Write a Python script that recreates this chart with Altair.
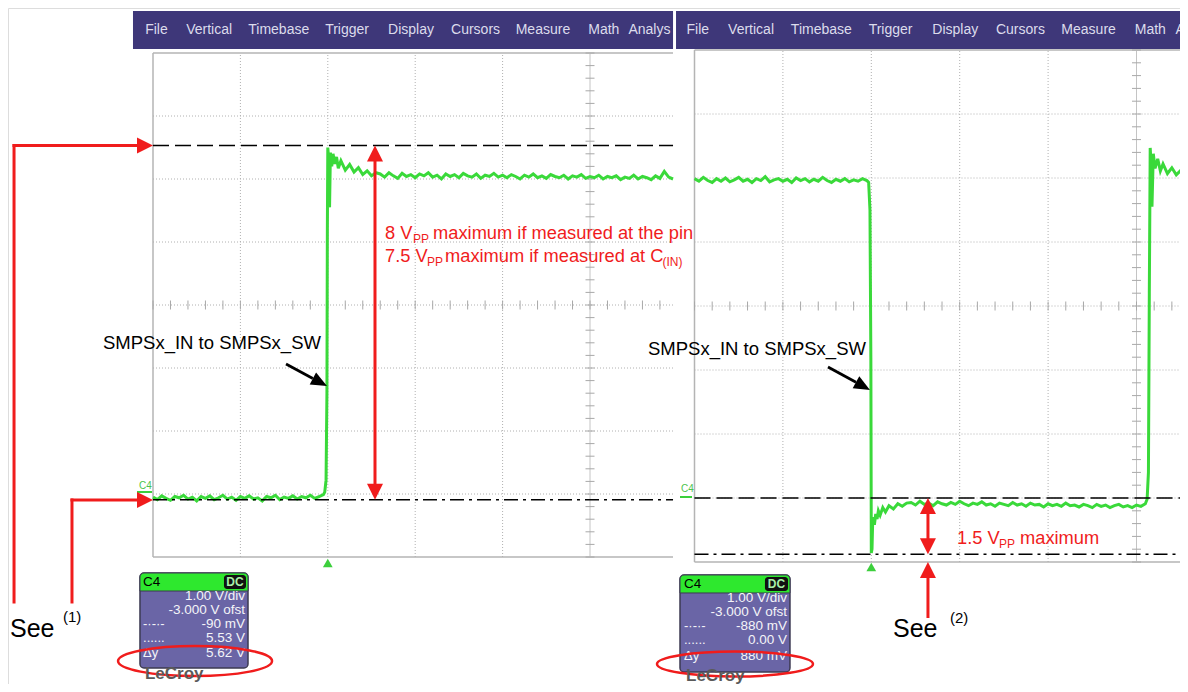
import altair as alt
import pandas as pd

W, H = 1172, 676
FONT = "Liberation Sans"
RED = "#f01c1c"
GREEN = "#3ad93a"
MENU_BG = "#3e3779"
MENU_FG = "#dcdcec"
BOX_BG = "#6a65a6"
HEAD_GREEN = "#2ee82e"
GRID = "#b0b0b0"

# ---------------- data (time in divisions, voltage in V) ----------------
MENU_LABELS_L = ["File", "Vertical", "Timebase", "Trigger", "Display", "Cursors", "Measure", "Math", "Analys"]
MENU_LABELS_R = ["File", "Vertical", "Timebase", "Trigger", "Display", "Cursors", "Measure", "Math", "Analysis"]

LEFT_LOW_T = [round(0.05 * i, 3) for i in range(40)]
LEFT_LOW_V = [-0.05, -0.09, -0.03, -0.07, -0.10, -0.04, -0.06, -0.02, -0.08, -0.05,
              -0.11, -0.04, -0.07, -0.03, -0.09, -0.06, -0.02, -0.08, -0.05, -0.10,
              -0.04, -0.07, -0.03, -0.08, -0.06, -0.11, -0.04, -0.06, -0.02, -0.09,
              -0.05, -0.07, -0.03, -0.08, -0.04, -0.06, -0.02, -0.07, -0.04, -0.01]
LEFT_EDGE_T = [1.965, 1.98, 1.99, 1.995, 2.0, 2.01, 2.02, 2.03, 2.045, 2.06, 2.08, 2.10,
               2.12, 2.15, 2.20, 2.25, 2.30, 2.35, 2.40, 2.45, 2.50, 2.55]
LEFT_EDGE_V = [0.03, 0.22, 1.6, 4.2, 5.50, 5.32, 4.55, 5.42, 5.20, 5.40, 5.24, 5.35,
               5.17, 5.29, 5.14, 5.23, 5.11, 5.18, 5.07, 5.13, 5.05, 5.10]
LEFT_HIGH_T = [round(2.60 + 0.05 * i, 3) for i in range(68)]
LEFT_HIGH_V = [5.08, 5.03, 5.10, 5.05, 5.01, 5.09, 5.04, 5.07, 5.02, 5.08,
               5.05, 5.10, 5.03, 5.06, 5.00, 5.08, 5.04, 5.07, 5.02, 5.09,
               5.05, 5.03, 5.08, 5.01, 5.06, 5.04, 5.09, 5.03, 5.06, 5.02,
               5.07, 5.04, 5.00, 5.06, 5.03, 5.08, 5.02, 5.05, 5.01, 5.07,
               5.04, 5.02, 5.06, 5.00, 5.05, 5.03, 5.07, 5.01, 5.04, 5.02,
               5.06, 5.00, 5.04, 5.02, 5.05, 4.99, 5.03, 5.01, 5.06, 5.00,
               5.04, 5.02, 4.99, 5.05, 5.01, 5.12, 5.03, 5.00]

RIGHT_HIGH_T = [round(0.05 * i, 3) for i in range(40)]
RIGHT_HIGH_V = [4.99, 4.95, 5.01, 4.96, 4.93, 4.99, 4.95, 5.00, 4.94, 4.97,
                5.01, 4.95, 4.98, 4.93, 4.99, 4.96, 5.02, 4.94, 4.97, 4.99,
                4.95, 4.98, 4.93, 5.00, 4.96, 4.99, 4.94, 4.98, 4.95, 5.01,
                4.96, 4.93, 4.98, 4.95, 4.99, 4.94, 4.97, 4.95, 4.99, 4.96]
RIGHT_FALL_T = [1.97, 1.985, 1.995, 2.0, 2.008, 2.015, 2.025, 2.035, 2.05, 2.065, 2.08,
                2.10, 2.13, 2.16, 2.20, 2.25, 2.30, 2.35, 2.40]
RIGHT_FALL_V = [4.93, 4.5, 2.2, -0.86, -0.80, -0.40, -0.30, -0.42, -0.25, -0.33, -0.20,
                -0.27, -0.15, -0.22, -0.12, -0.17, -0.09, -0.13, -0.08]
RIGHT_LOW_T = [round(2.45 + 0.05 * i, 3) for i in range(54)]
RIGHT_LOW_V = [-0.07, -0.11, -0.05, -0.10, -0.08, -0.12, -0.06, -0.09, -0.11, -0.07,
               -0.10, -0.05, -0.09, -0.12, -0.08, -0.10, -0.06, -0.11, -0.09, -0.13,
               -0.08, -0.10, -0.12, -0.07, -0.11, -0.09, -0.13, -0.08, -0.11, -0.10,
               -0.14, -0.09, -0.12, -0.10, -0.13, -0.08, -0.12, -0.11, -0.14, -0.10,
               -0.12, -0.15, -0.10, -0.13, -0.11, -0.15, -0.12, -0.10, -0.14, -0.12,
               -0.15, -0.11, -0.13, -0.09]
RIGHT_RISE_T = [5.12, 5.135, 5.145, 5.155, 5.165, 5.175, 5.19, 5.21, 5.24, 5.27, 5.30,
                5.35, 5.40, 5.45, 5.50, 5.55]
RIGHT_RISE_V = [-0.02, 0.4, 3.2, 5.47, 5.22, 4.55, 5.38, 5.15, 5.30, 5.11, 5.22,
                5.07, 5.16, 5.05, 5.12, 5.04]

LEFT_CURSORS = {"dash": 5.53, "dashdot": -0.09}
RIGHT_CURSORS = {"dash": 0.00, "dashdot": -0.88}

LEFT_READOUT = ["1.00 V/div", "-3.000 V ofst", "-90 mV", "5.53 V", "5.62 V"]
RIGHT_READOUT = ["1.00 V/div", "-3.000 V ofst", "-880 mV", "0.00 V", "880 mV"]
READOUT_KEYS = ["-\u00b7-\u00b7-", "......", "\u0394y"]

SIGNAL_LABEL = "SMPSx_IN to SMPSx_SW"

ARROW_R = "M0,0L-2,-1L-2,1Z"
ARROW_K = "M0,0L-2,-0.85L-2,0.85Z"


def ellipse_path(k):
    c = 0.5523
    return (f"M1,0C1,{k*c:.4f} {c},{k:.4f} 0,{k:.4f}C{-c},{k:.4f} -1,{k*c:.4f} -1,0"
            f"C-1,{-k*c:.4f} {-c},{-k:.4f} 0,{-k:.4f}C{c},{-k:.4f} 1,{-k*c:.4f} 1,0Z")


def scales(x0, y0, ppx, ppy):
    xs = alt.Scale(domain=[(8 - x0) / ppx, (8 + W - x0) / ppx], nice=False, zero=False)
    ys = alt.Scale(domain=[(y0 - 8 - H) / ppy, (y0 - 8) / ppy], nice=False, zero=False)
    return xs, ys


class Panel:
    def __init__(self, x0, y0, ppx, ppy):
        self.xs, self.ys = scales(x0, y0, ppx, ppy)
        self.ppx, self.ppy = ppx, ppy
        self.layers = []

    def X(self, f="x"):
        return alt.X(f, type="quantitative", scale=self.xs, axis=None)

    def Y(self, f="y"):
        return alt.Y(f, type="quantitative", scale=self.ys, axis=None)

    def hrule(self, rows, **mk):
        df = pd.DataFrame(rows, columns=["x", "x2", "y"])
        self.layers.append(alt.Chart(df).mark_rule(**mk).encode(x=self.X(), x2=alt.X2("x2"), y=self.Y()))

    def vrule(self, rows, **mk):
        df = pd.DataFrame(rows, columns=["x", "y", "y2"])
        self.layers.append(alt.Chart(df).mark_rule(**mk).encode(x=self.X(), y=self.Y(), y2=alt.Y2("y2")))

    def seg(self, rows, **mk):
        df = pd.DataFrame(rows, columns=["x", "y", "x2", "y2"])
        self.layers.append(alt.Chart(df).mark_rule(**mk).encode(
            x=self.X(), y=self.Y(), x2=alt.X2("x2"), y2=alt.Y2("y2")))

    def rect(self, rows, **mk):
        df = pd.DataFrame(rows, columns=["x", "x2", "y", "y2"])
        self.layers.append(alt.Chart(df).mark_rect(**mk).encode(
            x=self.X(), x2=alt.X2("x2"), y=self.Y(), y2=alt.Y2("y2")))

    def text(self, rows, **mk):
        df = pd.DataFrame(rows, columns=["text", "x", "y"])
        mk.setdefault("font", FONT)
        self.layers.append(alt.Chart(df).mark_text(**mk).encode(
            x=self.X(), y=self.Y(), text=alt.Text("text:N")))

    def point(self, rows, **mk):
        df = pd.DataFrame(rows, columns=["x", "y"])
        mk.setdefault("opacity", 1)
        self.layers.append(alt.Chart(df).mark_point(**mk).encode(x=self.X(), y=self.Y()))

    def trace(self, t, v, **mk):
        df = pd.DataFrame({"x": t, "y": v, "i": range(len(t))})
        self.layers.append(alt.Chart(df).mark_line(**mk).encode(
            x=self.X(), y=self.Y(), order=alt.Order("i:Q")))


def scope(P, right_edge, menu_box, menu_text_y, labels, t, v, cursors, trig_v, c4_text, c4_line):
    # menu bar
    P.rect([menu_box], color=MENU_BG)
    mx = [-0.09, 0.38, 1.09, 1.97, 2.69, 3.41, 4.15, 4.98, 5.44]
    P.text([(lab, x, menu_text_y) for lab, x in zip(labels, mx)],
           align="left", baseline="middle", fontSize=14, color=MENU_FG)
    # grid
    P.vrule([(0, -1, 7)], color="#b4b4b4", strokeWidth=1.5)
    P.hrule([(0, right_edge, 7), (0, right_edge, -1)], color="#b4b4b4", strokeWidth=1.5)
    P.vrule([(d, -1, 7) for d in [1, 2, 3, 4]], color=GRID, strokeWidth=1, strokeDash=[1, 2])
    P.hrule([(0, right_edge, y) for y in [0, 1, 2, 3, 4, 5, 6]], color=GRID, strokeWidth=1, strokeDash=[1, 2])
    P.vrule([(5, -1, 7)], color="#c4c4c4", strokeWidth=1)
    tx = 4.5 / P.ppx
    ty = 4.5 / P.ppy
    P.hrule([(5 - tx, 5 + tx, -1 + 0.2 * k) for k in range(41)], color="#a8a8a8", strokeWidth=1)
    P.vrule([(0.2 * k, 3 - ty, 3 + ty) for k in range(int(right_edge / 0.2) + 1)], color="#a8a8a8", strokeWidth=1)
    # trace
    P.trace(t, v, color=GREEN, strokeWidth=3)
    # cursors
    P.hrule([(0, right_edge, cursors["dash"])], color="black", strokeWidth=1.5, strokeDash=[16, 6])
    P.hrule([(0, right_edge, cursors["dashdot"])], color="black", strokeWidth=1.5, strokeDash=[14, 5, 3, 5])
    # trigger marker + channel label
    P.point([(2.0, trig_v)], shape="triangle-up", filled=True, size=95, color="#3ccf3c")
    P.text([("C4",) + c4_text], align="left", baseline="alphabetic", fontSize=10, color="#4cc44c")
    P.hrule([c4_line], color="#3ccf3c", strokeWidth=2)


def readout(P, box, header_y, c4_pos, dc_box, dc_pos, val_x, rows_y, values, key_x, ell, lecroy):
    P.rect([box], fill=BOX_BG, stroke="#3c3a52", strokeWidth=1.5, cornerRadius=4)
    P.rect([(box[0], box[1], header_y, box[3])], fill=HEAD_GREEN, stroke="#3c3a52", strokeWidth=1,
           cornerRadiusTopLeft=4, cornerRadiusTopRight=4)
    P.text([("C4",) + c4_pos], align="left", baseline="middle", fontSize=13.5, color="black")
    P.rect([dc_box], color="#111111", cornerRadius=3)
    P.text([("DC",) + dc_pos], align="center", baseline="middle", fontSize=12, fontWeight="bold", color="#a8f0a8")
    P.text([(s, val_x, y) for s, y in zip(values, rows_y)], align="right", baseline="alphabetic",
           fontSize=13.5, color="#f4f4f8")
    P.text([(s, key_x, y) for s, y in zip(READOUT_KEYS, rows_y[2:])], align="left", baseline="alphabetic",
           fontSize=13, color="#f4f4f8")
    cx, cy, rx, ry = ell
    P.point([(cx, cy)], shape=ellipse_path(ry / rx), filled=False, size=(2 * rx) ** 2,
            color=RED, strokeWidth=2.5)
    P.text([("LeCroy",) + lecroy], align="left", baseline="alphabetic", fontSize=17, fontWeight="bold",
           color="#5a5a5a")


# ---------------- left screenshot ----------------
L = Panel(153, 494, 87.4, 63.0)
scope(L, 5.95, (-0.229, 5.95, 7.063, 7.667), 7.365, MENU_LABELS_L,
      LEFT_LOW_T + LEFT_EDGE_T + LEFT_HIGH_T, LEFT_LOW_V + LEFT_EDGE_V + LEFT_HIGH_V,
      LEFT_CURSORS, -1.095, (-0.160, 0.079), (-0.183, -0.011, 0.032))
readout(L, (-0.149, 1.087, -2.762, -1.254), -1.540, (-0.114, -1.397), (0.812, 1.064, -1.508, -1.286),
        (0.938, -1.397), 1.053, [-1.683, -1.905, -2.127, -2.349, -2.587], LEFT_READOUT, -0.114,
        (0.481, -2.651, 77, 15), (-0.092, -2.937))

hl = 8 / L.ppx
vl = 8 / L.ppy
# red "See (1)" leaders
L.vrule([(-1.590, -1.714, 5.53), (-0.927, -1.714, -0.095)], color=RED, strokeWidth=3, strokeCap="square")
L.hrule([(-1.590, -hl, 5.53), (-0.927, -hl, -0.095)], color=RED, strokeWidth=3, strokeCap="square")
L.point([(0, 5.53), (0, -0.095)], shape=ARROW_R, filled=True, size=256, color=RED)
# red double arrow
L.vrule([(2.54, 5.53 - vl, -0.09 + vl)], color=RED, strokeWidth=3)
L.point([(2.54, 5.53)], shape=ARROW_R, angle=270, filled=True, size=256, color=RED)
L.point([(2.54, -0.09)], shape=ARROW_R, angle=90, filled=True, size=256, color=RED)
# red text
L.text([("8 V", 2.654, 4.048), ("maximum if measured at the pin", 3.204, 4.048),
        ("7.5 V", 2.654, 3.683), ("maximum if measured at C", 3.341, 3.683)],
       align="left", baseline="alphabetic", fontSize=18.3, color=RED)
L.text([("PP", 2.975, 3.984), ("PP", 3.135, 3.619), ("(IN)", 5.83, 3.619)],
       align="left", baseline="alphabetic", fontSize=12, color=RED)
# signal label + black arrow
L.text([(SIGNAL_LABEL, -0.572, 2.302)], align="left", baseline="alphabetic", fontSize=18.5, color="black")
L.seg([(1.522, 2.063, 1.829, 1.835)], color="black", strokeWidth=2.8)
L.point([(1.991, 1.714)], shape=ARROW_K, angle=28, filled=True, size=256, color="black")
# See (1)
L.text([("See", -1.636, -2.270)], align="left", baseline="alphabetic", fontSize=25, color="black")
L.text([("(1)", -1.030, -2.032)], align="left", baseline="alphabetic", fontSize=15, color="black")

# ---------------- right screenshot ----------------
R = Panel(694.5, 498, 88.4, 64.0)
scope(R, 5.6, (-0.209, 5.6, 7.016, 7.609), 7.3125, MENU_LABELS_R,
      RIGHT_HIGH_T + RIGHT_FALL_T + RIGHT_LOW_T + RIGHT_RISE_T,
      RIGHT_HIGH_V + RIGHT_FALL_V + RIGHT_LOW_V + RIGHT_RISE_V,
      RIGHT_CURSORS, -1.078, (-0.153, 0.094), (-0.164, -0.028, 0.016))
readout(R, (-0.164, 1.080, -2.719, -1.203), -1.484, (-0.119, -1.344), (0.797, 1.058, -1.453, -1.234),
        (0.928, -1.344), 1.046, [-1.625, -1.844, -2.0625, -2.281, -2.531], RIGHT_READOUT, -0.119,
        (0.458, -2.594, 78, 12.5), (-0.096, -2.860))

rvl = 8 / R.ppy
R.vrule([(2.641, 0 - rvl, -0.88 + rvl), (2.641, -1.875, -1.0 - rvl)], color=RED, strokeWidth=3)
R.point([(2.641, 0.0), (2.641, -1.0)], shape=ARROW_R, angle=270, filled=True, size=256, color=RED)
R.point([(2.641, -0.88)], shape=ARROW_R, angle=90, filled=True, size=256, color=RED)
R.text([("1.5 V", 2.969, -0.719), ("maximum", 3.682, -0.719)],
       align="left", baseline="alphabetic", fontSize=18.3, color=RED)
R.text([("PP", 3.445, -0.781)], align="left", baseline="alphabetic", fontSize=12, color=RED)
R.text([(SIGNAL_LABEL, -0.526, 2.234)], align="left", baseline="alphabetic", fontSize=18.5, color="black")
R.seg([(1.510, 2.047, 1.827, 1.808)], color="black", strokeWidth=2.8)
R.point([(1.985, 1.6875)], shape=ARROW_K, angle=29, filled=True, size=256, color="black")
R.text([("See", 2.245, -2.172)], align="left", baseline="alphabetic", fontSize=25, color="black")
R.text([("(2)", 2.890, -1.953)], align="left", baseline="alphabetic", fontSize=15, color="black")

left = alt.layer(*L.layers)
right = alt.layer(*R.layers)
chart = (
    alt.layer(left, right)
    .resolve_scale(x="independent", y="independent")
    .properties(width=W, height=H, padding=0, autosize=alt.AutoSizeParams(type="none"),
                background="white")
    .configure_view(stroke=None, strokeWidth=0)
    .configure(font=FONT)
)

chart.save("out.html", embed_options={"renderer": "svg", "actions": False})
